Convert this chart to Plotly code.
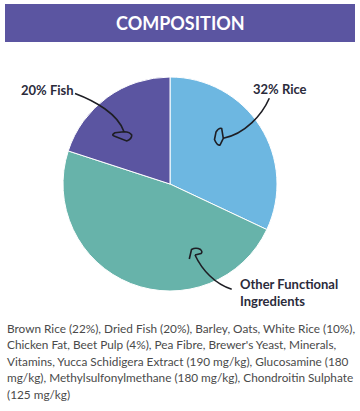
import plotly.graph_objects as go

# Data
labels = ["Rice", "Other Functional Ingredients", "Fish"]
values = [32, 48, 20]
colors = ["#6db7e1", "#67b3aa", "#5b55a1"]

title_text = "COMPOSITION"
label_fish = "20% Fish"
label_rice = "32% Rice"
label_other = "Other Functional<br>Ingredients"
paragraph_lines = [
    "Brown Rice (22%), Dried Fish (20%), Barley, Oats, White Rice (10%),",
    "Chicken Fat, Beet Pulp (4%), Pea Fibre, Brewer's Yeast, Minerals,",
    "Vitamins, Yucca Schidigera Extract (190 mg/kg), Glucosamine (180",
    "mg/kg), Methylsulfonylmethane (180 mg/kg), Chondroitin Sulphate",
    "(125 mg/kg)",
]

W, H = 360, 411
FONT = "Lato"
DARK = "#2b2b3b"

fig = go.Figure()
fig.add_trace(go.Pie(
    labels=labels, values=values, sort=False, direction="clockwise", rotation=0,
    marker=dict(colors=colors, line=dict(color="white", width=1)),
    textinfo="none", hoverinfo="label+percent", showlegend=False,
    domain=dict(x=[63 / W, 277 / W], y=[1 - 291 / H, 1 - 77 / H]),
))

shapes = []
# header bar
shapes.append(dict(type="rect", xref="x", yref="y", x0=5, x1=355, y0=4, y1=42,
                   fillcolor="#5b55a1", line=dict(width=0), layer="below"))

arrow_style = dict(type="path", xref="x", yref="y", line=dict(color="#1e1e24", width=1.6))
# Fish arrow
shapes.append(dict(arrow_style, path="M 75,93.5 C 95,101 118,114 124,131.7"))
shapes.append(dict(arrow_style, path="M 124,131.7 L 115,132.7 Q 111,135 114,136 L 126.7,141 Q 132,139 131.7,135 Q 130,132 124,131.7 Z"))
# Rice arrow
shapes.append(dict(arrow_style, path="M 269.3,98.3 C 262,115 245,134 223.3,138.3"))
shapes.append(dict(arrow_style, path="M 223.3,138.3 L 221.7,128.5 Q 219,127.5 216,132 L 214.5,139.5 Q 217,146 220,145 Z"))
# Other arrow
shapes.append(dict(arrow_style, path="M 231.7,289.3 C 215,284 202,270 195,255"))
shapes.append(dict(arrow_style, path="M 189.3,259 L 191.5,249.5 Q 196,247 200.5,249.5 Q 203,252 201,253.5 L 195,255"))

annotations = []
annotations.append(dict(x=180, y=23, xref="x", yref="y", text="<b>" + title_text + "</b>",
                        showarrow=False, font=dict(family=FONT, size=18, color="white"),
                        xanchor="center", yanchor="middle"))
annotations.append(dict(x=19, y=90, xref="x", yref="y", text="<b>" + label_fish + "</b>",
                        showarrow=False, font=dict(family=FONT, size=13, color=DARK),
                        xanchor="left", yanchor="middle"))
annotations.append(dict(x=251, y=89, xref="x", yref="y", text="<b>" + label_rice + "</b>",
                        showarrow=False, font=dict(family=FONT, size=13, color=DARK),
                        xanchor="left", yanchor="middle"))
annotations.append(dict(x=238, y=292, xref="x", yref="y", text="<b>" + label_other + "</b>",
                        showarrow=False, font=dict(family=FONT, size=13, color=DARK),
                        xanchor="left", yanchor="middle", align="left"))
for i, line in enumerate(paragraph_lines):
    annotations.append(dict(x=5, y=328.5 + i * 16.4, xref="x", yref="y", text=line,
                            showarrow=False, font=dict(family=FONT, size=11.8, color="#4a4a4a"),
                            xanchor="left", yanchor="middle", align="left"))

fig.update_layout(
    width=W, height=H, margin=dict(l=0, r=0, t=0, b=0),
    paper_bgcolor="white", plot_bgcolor="rgba(0,0,0,0)",
    xaxis=dict(range=[0, W], visible=False, fixedrange=True, domain=[0, 1]),
    yaxis=dict(range=[H, 0], visible=False, fixedrange=True, domain=[0, 1]),
    shapes=shapes, annotations=annotations, showlegend=False,
)
fig.write_html("out.html", config={"displayModeBar": False},
               post_script="document.body.style.margin='0';document.body.style.overflow='hidden';")
